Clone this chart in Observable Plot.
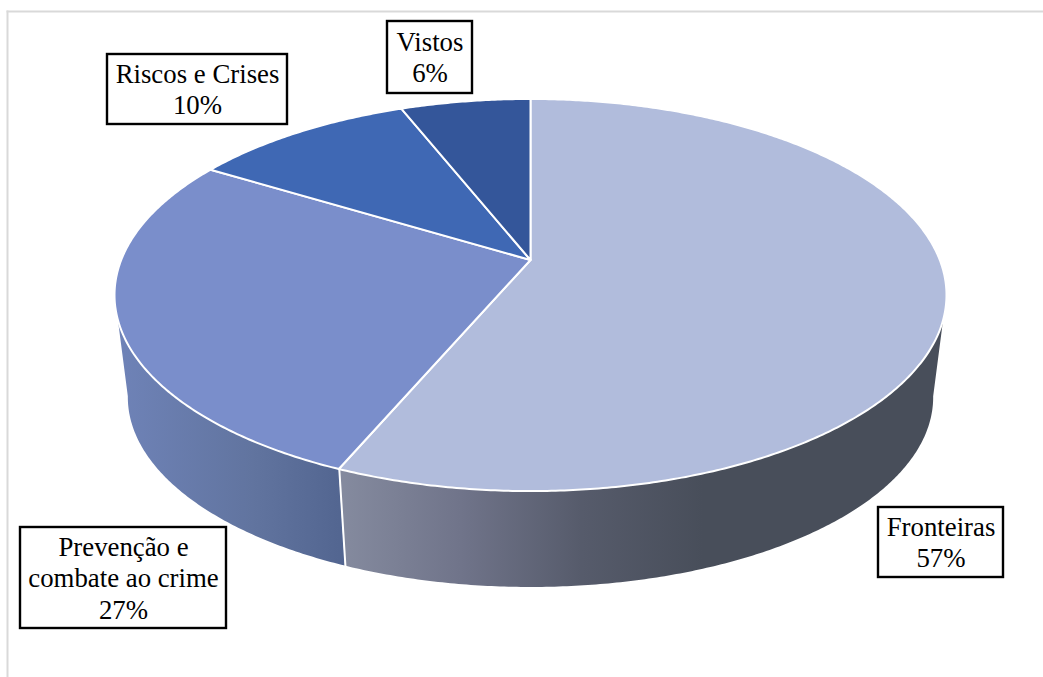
<!DOCTYPE html>
<html>
<head>
<meta charset="utf-8">
<script src="https://cdn.jsdelivr.net/npm/d3@7"></script>
<script src="https://cdn.jsdelivr.net/npm/@observablehq/plot@0.6"></script>
<style>html,body{margin:0;padding:0;background:#fff}svg{display:block}</style>
</head>
<body>
<div id="chart"></div>
<script>
// Data
const categories = ["Fronteiras", "Prevenção e combate ao crime", "Riscos e Crises", "Vistos"];
const shownPercent = [57, 27, 10, 6];
// slice sizes (labels are rounded)
const measuredShare = [56.4, 27.3, 10.3, 6.0];
const topColors = ["#b1bcdc", "#7a8ecb", "#3f68b4", "#34569a"];
const labelLines = [["Fronteiras"], ["Prevenção e", "combate ao crime"], ["Riscos e Crises"], ["Vistos"]];
// label boxes in page pixels [left, top, right, bottom]
const labelBoxes = [[878, 507, 1003, 577], [20, 527, 226, 628], [107, 54, 287, 124], [387, 21, 472, 93]];

// Layout
const W = 1043, H = 677;
const cx = 530.5, apexY = 260, a = 409.3, b = 189.8;
const tilt = 0.1786;          // perspective
const baseScale = 0.968;      // far (lower) rim scale
const baseDrop = 103.3 / b;   // depth in pie units

const xScale = {domain: [-1, 1], range: [cx - a, cx + a]};
const yScale = {domain: [1, -1], range: [apexY - b, apexY + b]};
const toX = (px) => (px - cx) / a;
const toY = (py) => (apexY - py) / b;

const rad = (deg) => deg * Math.PI / 180;
const rimTop = (t) => {
  const u = Math.sin(rad(t)), v = Math.cos(rad(t)), d = 1 + tilt * v;
  return {x: u / d, y: v / d};
};
const rimBase = (t) => {
  const r = rimTop(t);
  return {x: r.x * baseScale, y: r.y * baseScale - baseDrop};
};
const arc = (t0, t1) => {
  const n = Math.max(2, Math.ceil(Math.abs(t1 - t0) * 2));
  return d3.range(n + 1).map((i) => t0 + (t1 - t0) * i / n);
};

const cum = d3.cumsum(measuredShare);
const edges = [0, ...cum].map((c) => c * 3.6);
const slices = categories.map((c, i) => ({
  category: c, color: topColors[i], t0: edges[i], t1: edges[i + 1]
}));

const sectorRows = slices.flatMap((s) =>
  arc(s.t0, s.t1).map((t) => {
    const r = rimTop(t);
    return {category: s.category, x1: 0, y1: 0, x2: r.x, y2: r.y};
  })
);

const wallRows = (t0, t1) => arc(t0, t1).map((t) => {
  const p = rimTop(t), q = rimBase(t);
  return {x1: p.x, y1: p.y, x2: q.x, y2: q.y};
});

const split = edges[1];
const wallFront = wallRows(100, split);
const wallLeft = wallRows(split, 260);
const splitTop = rimTop(split), splitBase = rimBase(split);

const gradients = () => {
  const ns = "http://www.w3.org/2000/svg";
  const g = document.createElementNS(ns, "defs");
  const defs = {
    wallA: [[0, "#858b9f"], [0.2, "#70748a"], [0.4, "#565b6b"], [0.6, "#484e5a"], [1, "#484e5a"]],
    wallB: [[0, "#6f83b8"], [0.6, "#61749f" ], [1, "#526590"]]
  };
  for (const [id, stops] of Object.entries(defs)) {
    const lg = document.createElementNS(ns, "linearGradient");
    lg.setAttribute("id", id);
    lg.setAttribute("x1", "0"); lg.setAttribute("x2", "1");
    lg.setAttribute("y1", "0"); lg.setAttribute("y2", "0");
    for (const [o, c] of stops) {
      const st = document.createElementNS(ns, "stop");
      st.setAttribute("offset", o);
      st.setAttribute("stop-color", c);
      lg.appendChild(st);
    }
    g.appendChild(lg);
  }
  return g;
};

const boxRows = labelBoxes.map((b, i) => ({
  x1: toX(b[0]), x2: toX(b[2]), y1: toY(b[1]), y2: toY(b[3]),
  cxv: toX((b[0] + b[2]) / 2), cyv: toY((b[1] + b[3]) / 2),
  text: [...labelLines[i], shownPercent[i] + "%"].join("\n")
}));

const chart = Plot.plot({
  width: W, height: H,
  marginLeft: 7, marginTop: 11, marginRight: 0, marginBottom: 0,
  x: {...xScale, axis: null},
  y: {...yScale, axis: null},
  style: {background: "#fff"},
  marks: [
    gradients,
    Plot.frame({anchor: "top", stroke: "#d9d9d9", strokeWidth: 2}),
    Plot.frame({anchor: "left", stroke: "#d9d9d9", strokeWidth: 2}),
    Plot.area(wallLeft, {x1: "x1", y1: "y1", x2: "x2", y2: "y2", fill: "url(#wallB)"}),
    Plot.area(wallFront, {x1: "x1", y1: "y1", x2: "x2", y2: "y2", fill: "url(#wallA)"}),
    Plot.line([splitTop, splitBase], {x: "x", y: "y", stroke: "#fff", strokeWidth: 2}),
    ...slices.map((s) =>
      Plot.area(sectorRows.filter((r) => r.category === s.category), {
        x1: "x1", y1: "y1", x2: "x2", y2: "y2",
        fill: s.color, stroke: "#fff", strokeWidth: 2, strokeLinejoin: "round"
      })
    ),
    Plot.rect(boxRows, {x1: "x1", x2: "x2", y1: "y1", y2: "y2", fill: "#fff", stroke: "#000", strokeWidth: 2.4}),
    Plot.text(boxRows, {
      x: "cxv", y: "cyv", text: "text", dy: -0.5,
      fontFamily: "Liberation Serif", fontSize: 26.8, lineHeight: 1.16, fill: "#000"
    })
  ]
});
document.getElementById("chart").appendChild(chart);
</script>
</body>
</html>
